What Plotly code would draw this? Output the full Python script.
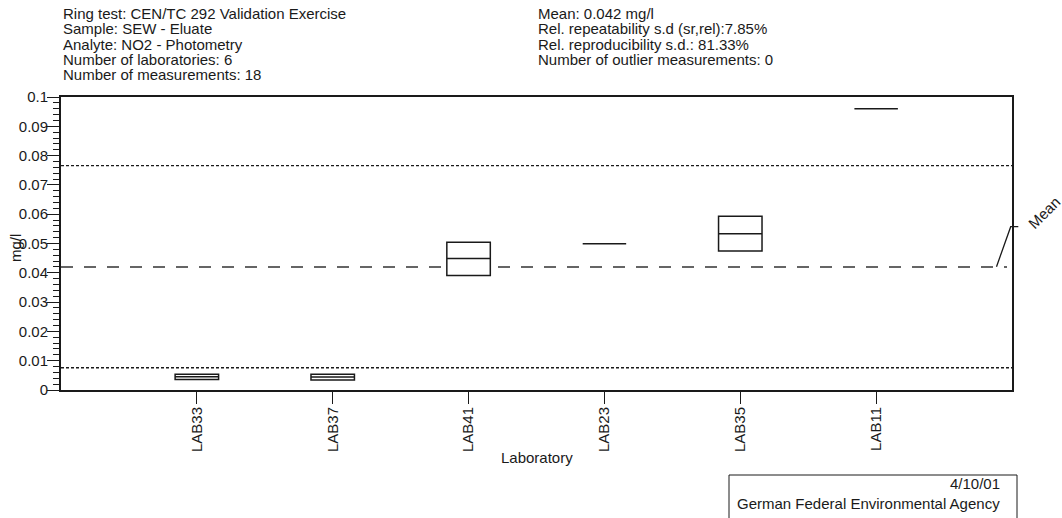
import plotly.graph_objects as go

# ---- data ----
labs = ["LAB33", "LAB37", "LAB41", "LAB23", "LAB35", "LAB11"]
q_low = [0.0036, 0.0034, 0.0391, 0.0499, 0.0474, 0.0960]
q_med = [0.0045, 0.0044, 0.0449, 0.0499, 0.0533, 0.0960]
q_high = [0.0054, 0.0054, 0.0504, 0.0499, 0.0593, 0.0960]
mean_value = 0.042
upper_limit = 0.0766
lower_limit = 0.0076
header_left = [
    "Ring test: CEN/TC 292 Validation Exercise",
    "Sample: SEW - Eluate",
    "Analyte: NO2 - Photometry",
    "Number of laboratories: 6",
    "Number of measurements: 18",
]
header_right = [
    "Mean: 0.042 mg/l",
    "Rel. repeatability s.d (sr,rel):7.85%",
    "Rel. reproducibility s.d.: 81.33%",
    "Number of outlier measurements: 0",
]
footer_date = "4/10/01"
footer_org = "German Federal Environmental Agency"

W, H = 1062, 518
L, R, T, B = 61, 1012, 97, 390
FONT = "Arial, Liberation Sans, sans-serif"
INK = "#1a1a1a"


def px(x):
    return (x - L) / (R - L)


def py(y):
    return (B - y) / (B - T)


xs = list(range(len(labs)))

fig = go.Figure()
fig.add_trace(go.Box(
    x=xs, q1=q_low, median=q_med, q3=q_high,
    lowerfence=q_low, upperfence=q_high,
    width=0.32, whiskerwidth=0,
    fillcolor="white", line=dict(color=INK, width=1.5),
    boxpoints=False, showlegend=False, hoverinfo="skip",
))

shapes = [
    dict(type="line", xref="paper", yref="y", x0=0, x1=1, y0=upper_limit, y1=upper_limit,
         line=dict(color=INK, width=1.3, dash="3px,2px"), layer="below"),
    dict(type="line", xref="paper", yref="y", x0=0, x1=1, y0=lower_limit, y1=lower_limit,
         line=dict(color=INK, width=1.3, dash="3px,2px"), layer="below"),
    dict(type="line", xref="paper", yref="y", x0=0, x1=px(1007), y0=mean_value, y1=mean_value,
         line=dict(color="#333333", width=1.5, dash="12px,11px"), layer="below"),
    dict(type="path", xref="paper", yref="paper",
         path=f"M {px(996.5)},{py(266.7)} L {px(1010.7)},{py(226.7)} L {px(1018.3)},{py(226.7)}",
         line=dict(color=INK, width=1.3)),
    dict(type="rect", xref="paper", yref="paper",
         x0=px(729), x1=px(1017), y0=py(475), y1=py(530),
         line=dict(color=INK, width=1), fillcolor="rgba(0,0,0,0)"),
]

ann = []
for i, t in enumerate(header_left):
    ann.append(dict(text=t, xref="paper", yref="paper", x=px(61), y=py(13.5 + 15.3 * i),
                    xanchor="left", yanchor="middle", showarrow=False))
for i, t in enumerate(header_right):
    ann.append(dict(text=t, xref="paper", yref="paper", x=px(536), y=py(13.5 + 15.3 * i),
                    xanchor="left", yanchor="middle", showarrow=False))
ann.append(dict(text="mg/l", xref="paper", yref="paper", x=px(15), y=py(248),
                textangle=-90, xanchor="center", yanchor="middle", showarrow=False))
ann.append(dict(text="Laboratory", xref="paper", yref="paper", x=0.5, y=py(458),
                xanchor="center", yanchor="middle", showarrow=False))
ann.append(dict(text="Mean", xref="paper", yref="paper", x=px(1044), y=py(212),
                textangle=-45, xanchor="center", yanchor="middle", showarrow=False))
ann.append(dict(text=footer_date, xref="paper", yref="paper", x=px(1002), y=py(484),
                xanchor="right", yanchor="middle", showarrow=False))
ann.append(dict(text=footer_org, xref="paper", yref="paper", x=px(735), y=py(503),
                xanchor="left", yanchor="middle", showarrow=False))

fig.update_layout(
    width=W, height=H,
    margin=dict(l=L, r=W - R, t=T, b=H - B),
    plot_bgcolor="white", paper_bgcolor="white",
    font=dict(family=FONT, size=15, color=INK),
    shapes=shapes, annotations=ann,
    xaxis=dict(
        range=[-1, 6], tickvals=xs, ticktext=labs, tickangle=-90,
        ticks="outside", ticklen=12, tickwidth=1.3, tickcolor=INK,
        ticklabelstandoff=-3,
        showline=True, linewidth=2, linecolor=INK, mirror=True,
        showgrid=False, zeroline=False, fixedrange=True,
    ),
    yaxis=dict(
        range=[0, 0.1], dtick=0.01, tick0=0,
        ticks="outside", ticklen=12, tickwidth=1.3, tickcolor=INK,
        ticklabelstandoff=-4,
        minor=dict(dtick=0.002, ticks="outside", ticklen=6, tickwidth=1.3, tickcolor=INK),
        showline=True, linewidth=2, linecolor=INK, mirror=True,
        showgrid=False, zeroline=False, fixedrange=True,
    ),
)

fig.write_html(
    "out.html",
    config={"displayModeBar": False},
    post_script="document.body.style.margin='0';document.body.style.overflow='hidden';",
)
